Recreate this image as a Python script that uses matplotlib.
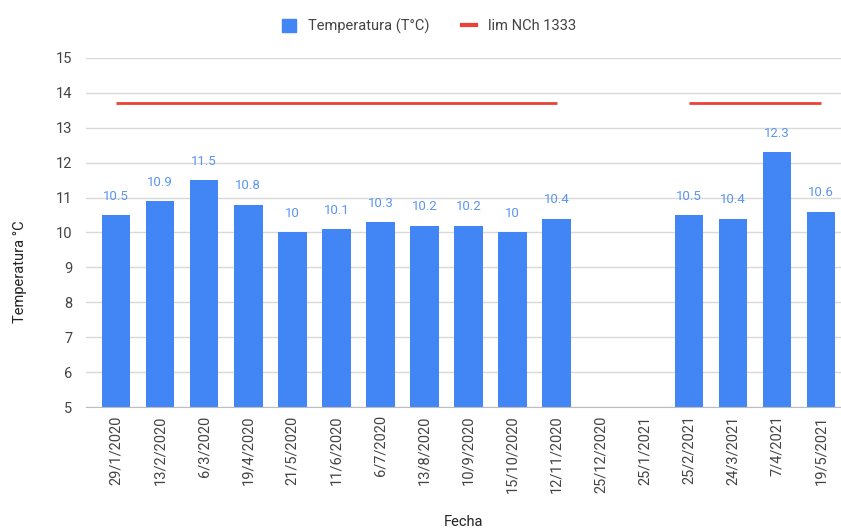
import matplotlib
matplotlib.use("Agg")
import matplotlib.pyplot as plt
from matplotlib.lines import Line2D
from matplotlib.patches import Patch
import numpy as np

fechas = ["29/1/2020", "13/2/2020", "6/3/2020", "19/4/2020", "21/5/2020",
          "11/6/2020", "6/7/2020", "13/8/2020", "10/9/2020", "15/10/2020",
          "12/11/2020", "25/12/2020", "25/1/2021", "25/2/2021", "24/3/2021",
          "7/4/2021", "19/5/2021"]
temperatura = [10.5, 10.9, 11.5, 10.8, 10.0, 10.1, 10.3, 10.2, 10.2, 10.0,
               10.4, None, None, 10.5, 10.4, 12.3, 10.6]
limite = [13.7] * 11 + [None, None] + [13.7] * 4

plt.rcParams["font.family"] = ["Roboto", "DejaVu Sans"]

BLUE = "#4285F4"
RED = "#EA4335"
LABEL_BLUE = "#5B95F0"
TEXT = "#444444"

fig = plt.figure(figsize=(8.41, 5.31), dpi=100)
ax = fig.add_axes([0.1023, 0.2335, 0.8977, 0.6573])

x = np.arange(len(fechas))
bottom = 5
for xi, v in zip(x, temperatura):
    if v is None:
        continue
    ax.bar(xi, v - bottom, bottom=bottom, width=0.65, color=BLUE, zorder=3)
    label = f"{v:g}"
    ax.text(xi, v + 0.35, label, ha="center", va="bottom", fontsize=9.5,
            color=LABEL_BLUE, zorder=4)

lim = np.array([np.nan if v is None else v for v in limite], dtype=float)
ax.plot(x, lim, color=RED, linewidth=2, zorder=4, solid_capstyle="butt")

ax.set_ylim(5, 15)
ax.set_xlim(-0.68, 16.45)
ax.set_yticks(range(5, 16))
ax.yaxis.grid(True, color="#d9d9d9", linewidth=1, zorder=0)
ax.set_axisbelow(True)
for s in ["top", "right", "left"]:
    ax.spines[s].set_visible(False)
ax.spines["bottom"].set_color("#bdbdbd")
ax.spines["bottom"].set_zorder(5)

ax.set_xticks(x)
ax.set_xticklabels(fechas, rotation=90, fontsize=10.5, color=TEXT)
ax.tick_params(axis="x", length=0, pad=6)
ax.tick_params(axis="y", length=0, pad=10, labelsize=10.5, labelcolor=TEXT)

ax.set_ylabel("Temperatura °C", fontsize=10.5, color="#222222")
ax.yaxis.set_label_coords(-0.078, 0.387)
ax.set_xlabel("Fecha", fontsize=10.5, color="#222222", labelpad=16)

handles = [Patch(facecolor=BLUE, edgecolor=BLUE),
           Line2D([0], [0], color=RED, linewidth=3)]
fig.legend(handles, ["Temperatura (T°C)", "lim NCh 1333"], loc="upper center",
           bbox_to_anchor=(0.51, 0.99), ncol=2, frameon=False, fontsize=10.5,
           labelcolor=TEXT, handlelength=1.0, handleheight=1.0,
           columnspacing=2.2, handletextpad=0.8)

fig.savefig("out.png", dpi=100, facecolor="white")
